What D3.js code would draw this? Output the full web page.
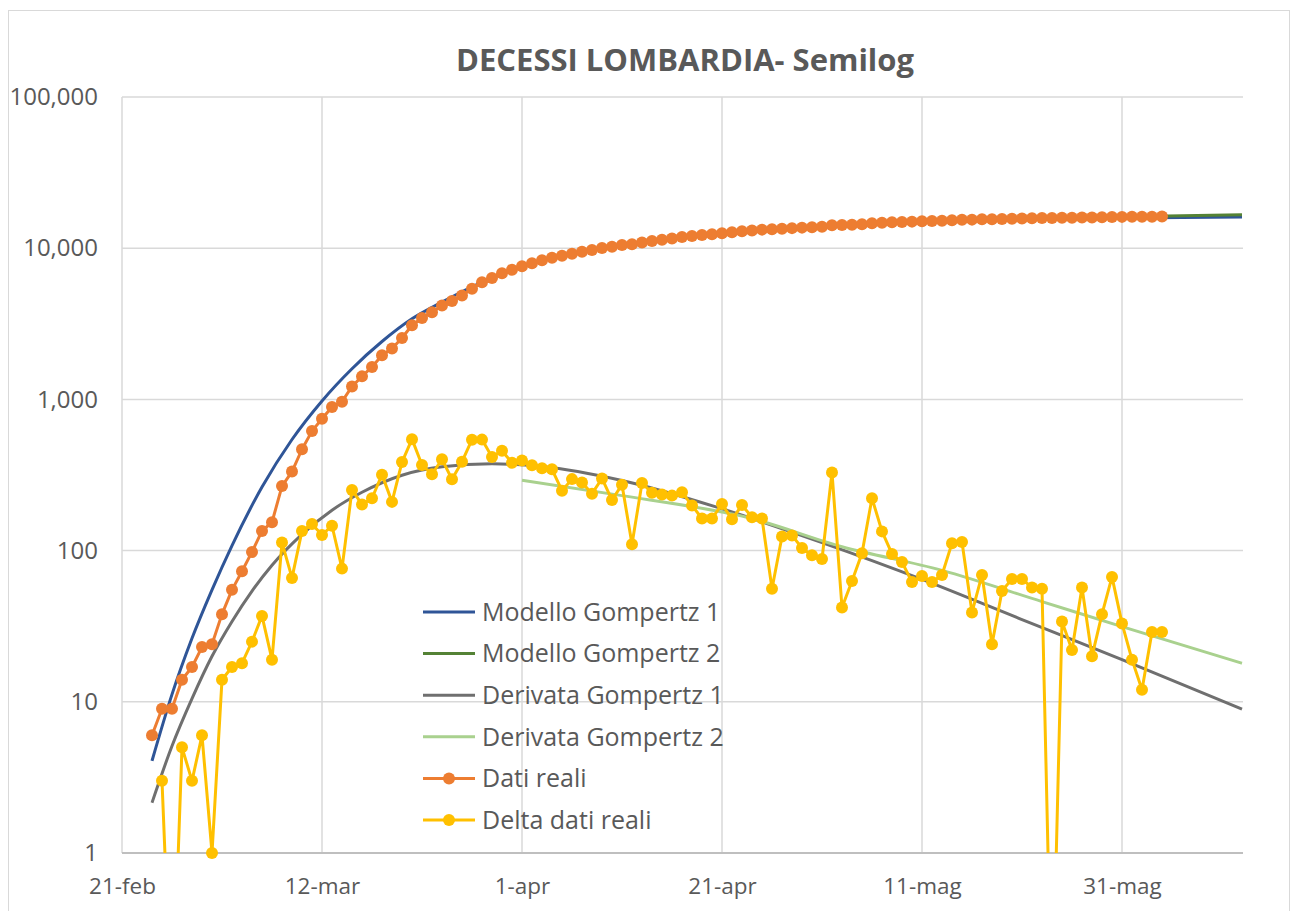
<!DOCTYPE html>
<html>
<head>
<meta charset="utf-8">
<script src="https://cdn.jsdelivr.net/npm/d3@7"></script>
<style>
  body { margin: 0; background: #fff; }
  text { font-family: "Open Sans", sans-serif; fill: #595959; }
</style>
</head>
<body>
<svg id="chart" width="1293" height="911"></svg>
<script>
'use strict';

// daily values, one per day starting at firstDay
const firstDay = "2020-02-24";
const datiReali = [
  6, 9, 9, 14, 17, 23, 24, 38, 55, 73, 98, 135, 154, 267, 333, 468, 617, 744, 890, 966,
  1218, 1420, 1640, 1959, 2168, 2549, 3095, 3456, 3776, 4178, 4474, 4861, 5402, 5944, 6360, 6818, 7199,
  7593, 7960, 8311, 8656, 8905, 9202, 9484, 9722, 10022, 10238, 10511, 10621, 10901, 11142, 11377,
  11608, 11851, 12050, 12213, 12376, 12579, 12740, 12940, 13106, 13269, 13325, 13449, 13575, 13679, 13772,
  13860, 14189, 14231, 14294, 14390, 14612, 14746, 14841, 14925, 14987, 15055, 15117, 15186, 15298, 15412,
  15451, 15520, 15544, 15598, 15663, 15728, 15785, 15841, 15841, 15875, 15897, 15954, 15974, 16012, 16079,
  16112, 16131, 16143, 16172, 16201
];

const deltaFirstDay = "2020-02-25";
const deltaDati = [
  3, 0, 5, 3, 6, 1, 14, 17, 18, 25, 37, 19, 113, 66, 135, 150, 127, 146, 76,
  252, 202, 222, 318, 210, 385, 546, 368, 320, 402, 296, 387, 541, 542, 416, 458, 381,
  394, 367, 351, 345, 249, 297, 282, 238, 300, 216, 273, 110, 280, 241, 235, 231, 243, 199, 163, 163,
  203, 161, 200, 166, 163, 56, 124, 126, 104, 93, 88,
  329, 42, 63, 96, 222, 134, 95, 84, 62, 68, 62, 69, 112, 114, 39, 69, 24, 54, 65, 65, 57, 56, 0,
  34, 22, 57, 20, 38, 67, 33, 19, 12, 29, 29
];

// model curves
const modello1 = [
  ["2020-02-24", 4.07], ["2020-02-26", 11.2], ["2020-02-28", 26.3], ["2020-03-01", 55],
  ["2020-03-03", 108], ["2020-03-06", 263], ["2020-03-09", 543], ["2020-03-12", 977],
  ["2020-03-15", 1596], ["2020-03-18", 2415], ["2020-03-21", 3412], ["2020-03-24", 4400],
  ["2020-03-27", 5560], ["2020-04-01", 7590], ["2020-04-06", 9180], ["2020-04-11", 10470],
  ["2020-04-21", 12450], ["2020-05-01", 13800], ["2020-05-11", 14800], ["2020-05-21", 15500],
  ["2020-05-31", 15850], ["2020-06-12", 16070]
];

const modello2 = [
  ["2020-04-01", 7600], ["2020-04-06", 9250], ["2020-04-11", 10450], ["2020-04-16", 11450],
  ["2020-04-21", 12350], ["2020-05-01", 13800], ["2020-05-11", 14850], ["2020-05-21", 15600],
  ["2020-05-31", 16150], ["2020-06-12", 16650]
];

const derivata1 = [
  ["2020-02-24", 2.15], ["2020-02-26", 5.1], ["2020-02-28", 10.5], ["2020-03-01", 20],
  ["2020-03-03", 34], ["2020-03-05", 54], ["2020-03-07", 80], ["2020-03-10", 128],
  ["2020-03-13", 185], ["2020-03-16", 243], ["2020-03-20", 315], ["2020-03-24", 358],
  ["2020-03-29", 375], ["2020-04-03", 360], ["2020-04-11", 291], ["2020-04-21", 189],
  ["2020-05-01", 113], ["2020-05-11", 64.5], ["2020-05-21", 35], ["2020-05-31", 19],
  ["2020-06-12", 8.95]
];

const derivata2 = [
  ["2020-04-01", 292], ["2020-04-11", 231], ["2020-04-21", 180], ["2020-04-23", 169],
  ["2020-05-03", 106], ["2020-05-13", 74], ["2020-05-23", 46], ["2020-05-31", 31.4],
  ["2020-06-12", 18]
];

const tickDates = ["2020-02-21", "2020-03-12", "2020-04-01", "2020-04-21", "2020-05-11", "2020-05-31"];
const tickLabels = ["21-feb", "12-mar", "1-apr", "21-apr", "11-mag", "31-mag"];
const yTicks = [1, 10, 100, 1000, 10000, 100000];

const seriesNames = ["Modello Gompertz 1", "Modello Gompertz 2", "Derivata Gompertz 1",
  "Derivata Gompertz 2", "Dati reali", "Delta dati reali"];
const seriesColours = ["#2f5597", "#548235", "#6f6f6f", "#a9d18e", "#ed7d31", "#ffc000"];

const parse = d3.utcParse("%Y-%m-%d");
const svg = d3.select("#chart");
const plotLeft = 122, plotRight = 1243, plotTop = 97, plotBottom = 853;

const x = d3.scaleUtc()
  .domain([parse("2020-02-21"), parse("2020-06-12")])
  .range([plotLeft, 1242]);
const y = d3.scaleLog()
  .domain([1, 100000])
  .range([plotBottom, plotTop]);

// zeros can't live on a log axis: send them below the plot, the clip cuts them
const zeroFloor = 0.07;
const yv = v => y(v > 0 ? v : zeroFloor);

function daily(start, values) {
  const s = parse(start);
  return values.map((v, i) => ({date: d3.utcDay.offset(s, i), value: v}));
}
function sampled(pairs) {
  return pairs.map(p => ({date: parse(p[0]), value: p[1]}));
}

// chart frame
svg.append("rect")
  .attr("x", 8.5).attr("y", 10.5)
  .attr("width", 1281).attr("height", 920)
  .attr("fill", "#fff")
  .attr("stroke", "#d9d9d9");

svg.append("text")
  .attr("x", 685).attr("y", 71)
  .attr("text-anchor", "middle")
  .style("font-size", "31px")
  .style("font-weight", "bold")
  .text("DECESSI LOMBARDIA- Semilog");

// gridlines
svg.append("g")
  .selectAll("line")
  .data(yTicks.slice(1))
  .join("line")
  .attr("x1", plotLeft).attr("x2", plotRight)
  .attr("y1", d => y(d)).attr("y2", d => y(d))
  .attr("stroke", "#d9d9d9").attr("stroke-width", 1.5);

svg.append("g")
  .selectAll("line")
  .data(tickDates)
  .join("line")
  .attr("x1", d => x(parse(d))).attr("x2", d => x(parse(d)))
  .attr("y1", plotTop).attr("y2", plotBottom)
  .attr("stroke", "#d9d9d9").attr("stroke-width", 1.5);

svg.append("line")
  .attr("x1", plotLeft).attr("x2", plotRight)
  .attr("y1", plotBottom).attr("y2", plotBottom)
  .attr("stroke", "#bfbfbf").attr("stroke-width", 2);

// axis labels
const yAxis = d3.axisLeft(y)
  .tickValues(yTicks)
  .tickFormat(d3.format(","))
  .tickSize(0)
  .tickPadding(24);
svg.append("g")
  .attr("transform", `translate(${plotLeft},0)`)
  .call(yAxis)
  .call(g => g.select(".domain").remove())
  .call(g => g.selectAll("text").style("font-size", "24px").attr("fill", "#595959"));

const xAxis = d3.axisBottom(x)
  .tickValues(tickDates.map(parse))
  .tickFormat((d, i) => tickLabels[i])
  .tickSize(0)
  .tickPadding(25);
svg.append("g")
  .attr("transform", `translate(0,${plotBottom})`)
  .call(xAxis)
  .call(g => g.select(".domain").remove())
  .call(g => g.selectAll("text").style("font-size", "22.5px").attr("fill", "#595959"));

// series
svg.append("clipPath").attr("id", "plot")
  .append("rect")
  .attr("x", plotLeft).attr("y", plotTop)
  .attr("width", plotRight - plotLeft).attr("height", plotBottom - plotTop);

const smooth = d3.line()
  .x(d => x(d.date)).y(d => yv(d.value))
  .curve(d3.curveMonotoneX);
const straight = d3.line()
  .x(d => x(d.date)).y(d => yv(d.value));

const lines = svg.append("g").attr("clip-path", "url(#plot)");
const seriesData = [sampled(modello1), sampled(modello2), sampled(derivata1), sampled(derivata2)];
seriesData.forEach((data, i) => {
  lines.append("path")
    .datum(data)
    .attr("d", smooth)
    .attr("fill", "none")
    .attr("stroke", seriesColours[i])
    .attr("stroke-width", 3);
});

function drawMarkers(data, colour) {
  lines.append("path")
    .datum(data)
    .attr("d", straight)
    .attr("fill", "none")
    .attr("stroke", colour)
    .attr("stroke-width", 3)
    .attr("stroke-linejoin", "round");
  svg.append("g")
    .selectAll("circle")
    .data(data.filter(d => d.value > 0))
    .join("circle")
    .attr("cx", d => x(d.date))
    .attr("cy", d => y(d.value))
    .attr("r", 6)
    .attr("fill", colour);
}
drawMarkers(daily(firstDay, datiReali), seriesColours[4]);
drawMarkers(daily(deltaFirstDay, deltaDati), seriesColours[5]);

// legend
const legend = svg.append("g");
seriesNames.forEach((name, i) => {
  const ly = 612 + i * 41.6;
  legend.append("line")
    .attr("x1", 423).attr("x2", 475)
    .attr("y1", ly).attr("y2", ly)
    .attr("stroke", seriesColours[i])
    .attr("stroke-width", 3);
  if (i >= 4) {
    legend.append("circle")
      .attr("cx", 449).attr("cy", ly).attr("r", 6)
      .attr("fill", seriesColours[i]);
  }
  legend.append("text")
    .attr("x", 482).attr("y", ly)
    .attr("dy", "0.35em")
    .style("font-size", "25px")
    .text(name);
});
</script>
</body>
</html>
